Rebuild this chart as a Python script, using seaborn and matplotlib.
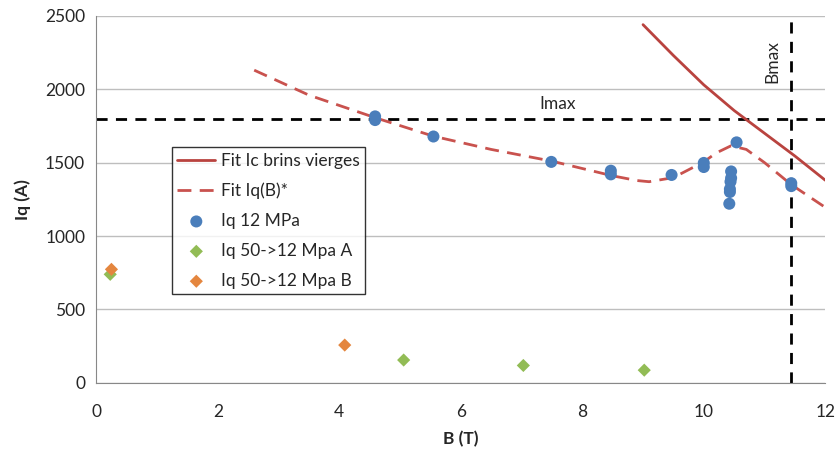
import numpy as np
import pandas as pd
import seaborn as sns
import matplotlib.pyplot as plt

# Points mesurés
b_12 = [4.59, 4.59, 5.55, 7.49, 8.47, 8.47, 9.47, 10.0, 10.0, 10.45, 10.45, 10.44, 10.43, 10.43, 10.42, 10.54, 11.44, 11.44]
iq_12 = [1815, 1790, 1678, 1505, 1445, 1420, 1416, 1498, 1470, 1440, 1395, 1370, 1320, 1300, 1220, 1638, 1360, 1340]

b_a = [0.23, 5.06, 7.03, 9.02]
iq_a = [739, 155, 118, 86]

b_b = [0.25, 4.09]
iq_b = [773, 257]

# Courbes de fit
b_fit_ic = [9.0, 9.5, 10.0, 10.5, 11.0, 11.5, 12.0]
ic_fit = [2440, 2230, 2030, 1855, 1700, 1545, 1380]

b_fit_iq = [2.6, 3.5, 4.6, 5.55, 6.5, 7.5, 8.0, 8.5, 8.9, 9.1, 9.5, 10.0, 10.2, 10.45, 10.7, 11.0, 11.44, 12.0]
iq_fit = [2130, 1960, 1805, 1680, 1590, 1510, 1460, 1410, 1378, 1370, 1398, 1505, 1565, 1615, 1590, 1500, 1350, 1195]

imax = 1800
bmax = 11.44

sns.set_style("white")
plt.rcParams['font.family'] = ['Lato', 'DejaVu Sans']

fig, ax = plt.subplots(figsize=(8.37, 4.53), dpi=100)
fig.subplots_adjust(left=0.115, right=0.986, top=0.965, bottom=0.155)

ax.axhline(imax, color='black', lw=2, ls=(0, (4, 3)), zorder=1)
ax.axvline(bmax, color='black', lw=2, ls=(0, (4, 3)), zorder=1)

sns.lineplot(x=b_fit_ic, y=ic_fit, color='#B9433F', lw=2, ax=ax, label='Fit Ic brins vierges', zorder=2)
sns.lineplot(x=b_fit_iq, y=iq_fit, color='#C9524E', lw=2, ls=(0, (5, 3)), ax=ax, label='Fit Iq(B)*', zorder=2)
sns.scatterplot(x=b_12, y=iq_12, color='#4A7EBB', s=75, edgecolor='none', ax=ax, label='Iq 12 MPa', zorder=3)
sns.scatterplot(x=b_a, y=iq_a, color='#92BC55', marker='D', s=45, edgecolor='none', ax=ax, label='Iq 50->12 Mpa A', zorder=3)
sns.scatterplot(x=b_b, y=iq_b, color='#E4863F', marker='D', s=45, edgecolor='none', ax=ax, label='Iq 50->12 Mpa B', zorder=3)

ax.text(7.6, 1900, 'Imax', fontsize=12.5, ha='center', va='center')
ax.text(11.13, 2190, 'Bmax', fontsize=12.5, ha='center', va='center', rotation=90)

ax.set_xlim(0, 12)
ax.set_ylim(0, 2500)
ax.set_xticks(range(0, 13, 2))
ax.set_yticks(range(0, 2501, 500))
ax.yaxis.grid(True, color='#BEBEBE', lw=1)
ax.set_axisbelow(True)
for s in ['top', 'right']:
    ax.spines[s].set_visible(False)
for s in ['left', 'bottom']:
    ax.spines[s].set_color('#888888')
ax.tick_params(axis='x', direction='out', length=5, color='#888888', labelsize=12.5, pad=10)
ax.tick_params(axis='y', length=0, labelsize=12.5, pad=8)
ax.set_xlabel('B (T)', fontsize=12.5, fontweight='bold', labelpad=8)
ax.set_ylabel('Iq (A)', fontsize=12.5, fontweight='bold', labelpad=10)

leg = ax.legend(loc='upper left', bbox_to_anchor=(0.092, 0.665), frameon=True, fancybox=False,
                edgecolor='black', fontsize=12.5, handlelength=2.2, handletextpad=0.3,
                borderpad=0.3, labelspacing=0.8)
leg.get_frame().set_linewidth(1)

plt.savefig('out.png', dpi=100)
